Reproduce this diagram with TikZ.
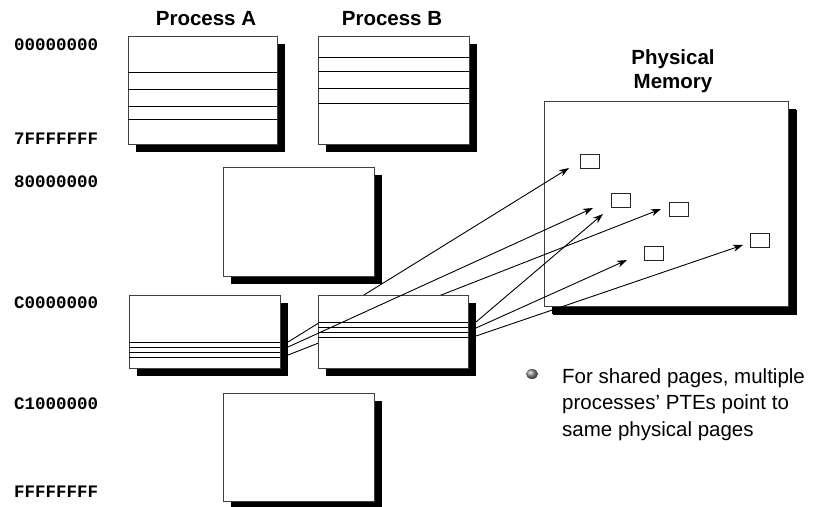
\documentclass[tikz,border=0pt]{standalone}
\usepackage{fontspec}
\setmainfont{Liberation Sans}
\newfontfamily\addrfont{Liberation Mono}
\usetikzlibrary{arrows.meta,shadows,shapes.geometric}

\begin{document}
\begin{tikzpicture}[x=1pt,y=-1pt,
  membox/.style={draw=black!75, line width=1pt, fill=white, inner sep=0pt, outer sep=0pt, anchor=north west,
    drop shadow={shadow xshift=8pt, shadow yshift=-8pt, fill=black, opacity=1}},
  rowline/.style={draw=black, line width=1pt},
  page/.style={draw=black!85, line width=1pt, fill=white, inner sep=0pt, minimum width=19pt, minimum height=14pt},
  conn/.style={-{Stealth[length=10pt,width=7pt,inset=3pt]}, line width=0.9pt},
  title/.style={font=\fontsize{20.5}{24}\selectfont\bfseries, inner sep=0pt, align=center},
  addr/.style={font=\addrfont\bfseries\fontsize{17.5}{20}\selectfont, inner sep=0pt, anchor=base west},
  note/.style={font=\fontsize{20.5}{26.5}\selectfont, inner sep=0pt, align=left, anchor=north west}
]
\useasboundingbox (0,0) rectangle (818,506);

% address labels
\node[addr] (a0) at (14,50) {00000000};
\node[addr] (a1) at (14,144) {7FFFFFFF};
\node[addr] (a2) at (14,187) {80000000};
\node[addr] (a3) at (14,308) {C0000000};
\node[addr] (a4) at (14,409) {C1000000};
\node[addr] (a5) at (14,497) {FFFFFFFF};

% titles
\node[title] (ta) at (206,19) {Process A};
\node[title] (tb) at (392,19) {Process B};
\node[title, anchor=north] (tm) at (673,49) {Physical\\Memory};

% process A user space
\node[membox, minimum width=149pt, minimum height=108pt] (pa) at (128,36) {};
\foreach \yy in {72,89,106,119} \draw[rowline] (pa.west |- 0,\yy) -- (pa.east |- 0,\yy);

% process B user space
\node[membox, minimum width=151pt, minimum height=108pt] (pb) at (318,36) {};
\foreach \yy in {57,71,88,103} \draw[rowline] (pb.west |- 0,\yy) -- (pb.east |- 0,\yy);

% shared system space
\node[membox, minimum width=151pt, minimum height=109pt] (sys1) at (223,167) {};
\node[membox, minimum width=151pt, minimum height=108pt] (sys2) at (223,393) {};

% process A page table
\node[membox, minimum width=151pt, minimum height=73pt] (pta) at (129,295) {};
\foreach \yy in {342,347,352,357} \draw[rowline] (pta.west |- 0,\yy) -- (pta.east |- 0,\yy);

% physical memory
\node[membox, minimum width=244pt, minimum height=205pt,
  drop shadow={shadow xshift=9pt, shadow yshift=-9pt, fill=black, opacity=1}] (pm) at (544,101) {};
\node[page] (p1) at (589.5,161) {};
\node[page] (p2) at (620.5,200) {};
\node[page] (p3) at (678.5,209) {};
\node[page] (p4) at (653.5,253) {};
\node[page] (p5) at (759.5,240) {};

% connector end points
\coordinate (l1) at (288,342);
\coordinate (l2) at (288,347);
\coordinate (l3) at (288,355);
\coordinate (r1) at (476,322);
\coordinate (r2) at (476,328);
\coordinate (r3) at (476,336);
\coordinate (t1) at (569,168);
\coordinate (t2) at (593,208);
\coordinate (t3) at (661,209);
\coordinate (t4) at (603,214);
\coordinate (t5) at (627,260);
\coordinate (t6) at (743,245);

% arrows from process A page table that pass behind process B table
\draw[conn] (l1) -- (t1);
\draw[conn] (l3) -- (t3);

% process B page table
\node[membox, minimum width=150pt, minimum height=73pt] (ptb) at (318,295) {};
\foreach \yy in {322,327,332,337} \draw[rowline] (ptb.west |- 0,\yy) -- (ptb.east |- 0,\yy);

\draw[conn] (l2) -- (t2);
\draw[conn] (r1) -- (t4);
\draw[conn] (r2) -- (t5);
\draw[conn] (r3) -- (t6);

% note
\node[ellipse, minimum width=12pt, minimum height=10pt, inner sep=0pt, shading=ball, ball color=black!45] (bul) at (532,374) {};
\node[note] (txt) at (562,368) {For shared pages, multiple\\processes’ PTEs point to\\same physical pages};
\end{tikzpicture}
\end{document}
